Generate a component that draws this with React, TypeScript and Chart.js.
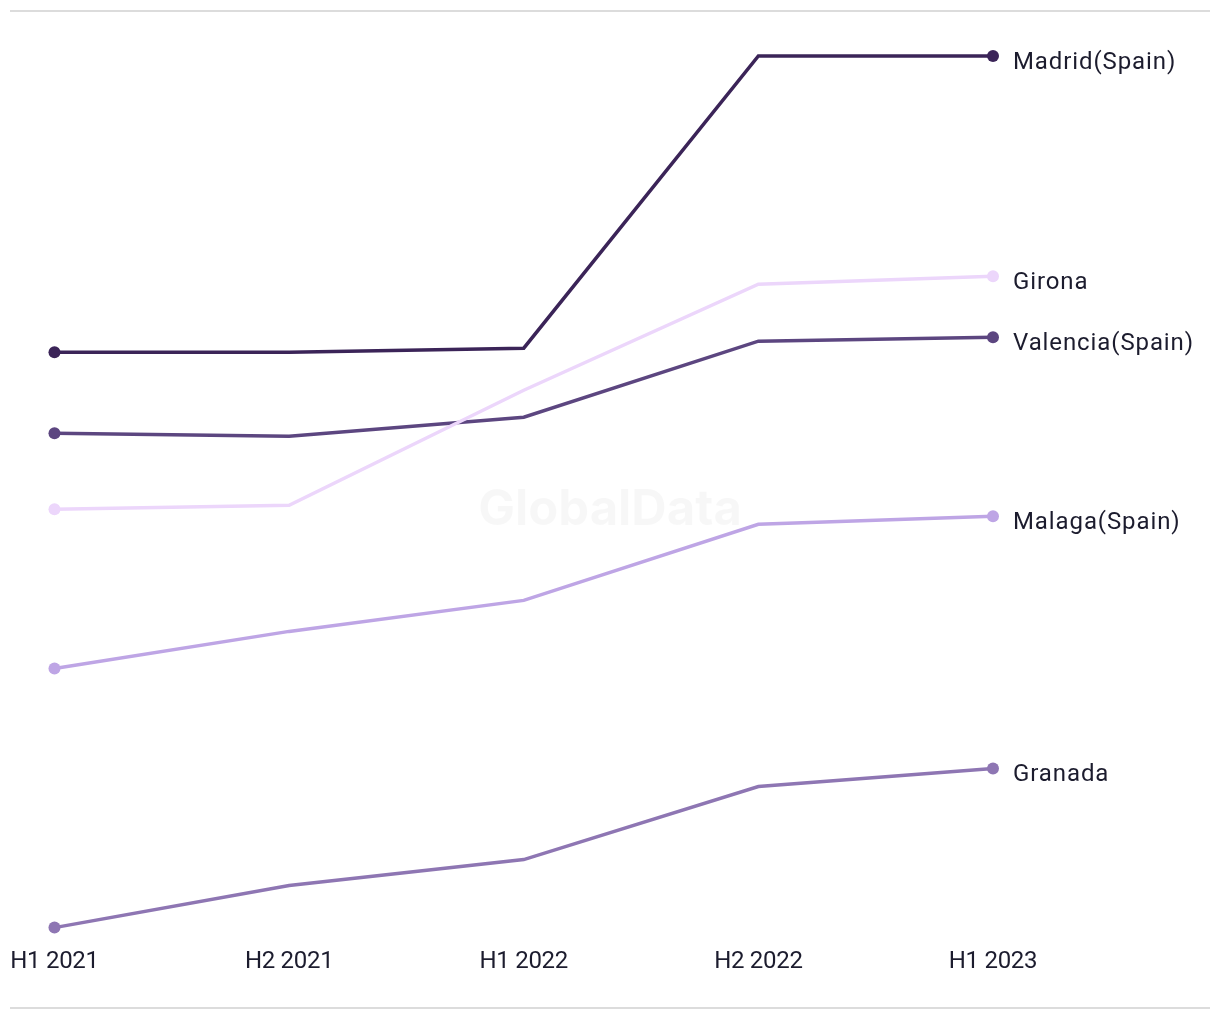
import React, { useEffect, useRef } from "react";
import { Chart, registerables } from "chart.js";

Chart.register(...registerables);

const categories = ["H1 2021", "H2 2021", "H1 2022", "H2 2022", "H1 2023"];
const seriesNames = ["Madrid(Spain)", "Girona", "Valencia(Spain)", "Malaga(Spain)", "Granada"];
const madrid = [64.8, 64.8, 65.2, 94.4, 94.4];
const girona = [49.1, 49.5, 61.0, 71.6, 72.4];
const valencia = [56.7, 56.4, 58.3, 65.9, 66.3];
const malaga = [33.2, 36.9, 40.0, 47.6, 48.4];
const granada = [7.3, 11.5, 14.1, 21.4, 23.2];
const colors = ["#3b2458", "#ecd6fb", "#5c4680", "#bea5e5", "#8e76b3"];

const FONT = "Roboto, 'Liberation Sans', sans-serif";
const TEXT = "#1c1c2e";

const endLabels = {
  id: "endLabels",
  afterDatasetsDraw(chart: any) {
    const ctx = chart.ctx;
    ctx.save();
    ctx.font = `24px ${FONT}`;
    (ctx as any).letterSpacing = "0.9px";
    ctx.fillStyle = TEXT;
    ctx.textAlign = "left";
    ctx.textBaseline = "alphabetic";
    chart.data.datasets.forEach((ds: any, i: number) => {
      const meta = chart.getDatasetMeta(i);
      const pt = meta.data[meta.data.length - 1];
      if (!pt) return;
      ctx.fillText(ds.label, pt.x + 20, pt.y + 13);
    });
    ctx.restore();
  },
};

const tickLabels = {
  id: "tickLabels",
  afterDraw(chart: any) {
    const ctx = chart.ctx;
    const xs = chart.scales.x;
    ctx.save();
    ctx.font = `24px ${FONT}`;
    (ctx as any).letterSpacing = "-0.3px";
    ctx.fillStyle = TEXT;
    ctx.textAlign = "center";
    ctx.textBaseline = "alphabetic";
    categories.forEach((c, i) => {
      ctx.fillText(c, xs.getPixelForValue(i), 968);
    });
    ctx.restore();
  },
};

const watermark = {
  id: "watermark",
  beforeDatasetsDraw(chart: any) {
    const ctx = chart.ctx;
    ctx.save();
    ctx.font = `bold 49px Inter, Roboto, sans-serif`;
    ctx.fillStyle = "rgba(0,0,0,0.03)";
    ctx.textAlign = "center";
    ctx.textBaseline = "middle";
    ctx.fillText("GlobalData", 610, 510);
    ctx.restore();
  },
};

const frameLines = {
  id: "frameLines",
  beforeDraw(chart: any) {
    const ctx = chart.ctx;
    ctx.save();
    ctx.fillStyle = "#dcdcdc";
    ctx.fillRect(10, 10, 1200, 2);
    ctx.fillRect(10, 1007, 1200, 2);
    ctx.restore();
  },
};

export default function App() {
  const ref = useRef<HTMLCanvasElement | null>(null);
  useEffect(() => {
    if (!ref.current) return;
    const all = [madrid, girona, valencia, malaga, granada];
    const chart = new Chart(ref.current, {
      type: "line",
      data: {
        labels: categories,
        datasets: all.map((d, i) => ({
          label: seriesNames[i],
          data: d,
          borderColor: colors[i],
          backgroundColor: colors[i],
          borderWidth: 3.5,
          pointRadius: (c: any) => (c.dataIndex === 0 || c.dataIndex === d.length - 1 ? 6 : 0),
          pointHoverRadius: 6,
          pointBorderWidth: 0,
          tension: 0,
          clip: false as any,
        })),
      },
      options: {
        responsive: false,
        animation: false,
        layout: { padding: { left: 51, right: 227, top: 56, bottom: 32 } },
        plugins: { legend: { display: false }, tooltip: { enabled: false } },
        scales: {
          x: {
            offset: false,
            grid: { display: false },
            border: { display: false },
            ticks: {
              color: "rgba(0,0,0,0)",
              font: { size: 22, family: FONT },
              padding: 13,
              maxRotation: 0,
            },
          },
          y: {
            display: false,
            min: 7.3,
            max: 94.4,
          },
        },
      },
      plugins: [frameLines, watermark, endLabels, tickLabels],
    });
    return () => chart.destroy();
  }, []);
  return (
    <div style={{ position: "absolute", left: 0, top: 0, width: 1220, height: 1020, background: "#fff" }}>
      <canvas ref={ref} width={1220} height={1020} style={{ width: 1220, height: 1020 }} />
    </div>
  );
}
